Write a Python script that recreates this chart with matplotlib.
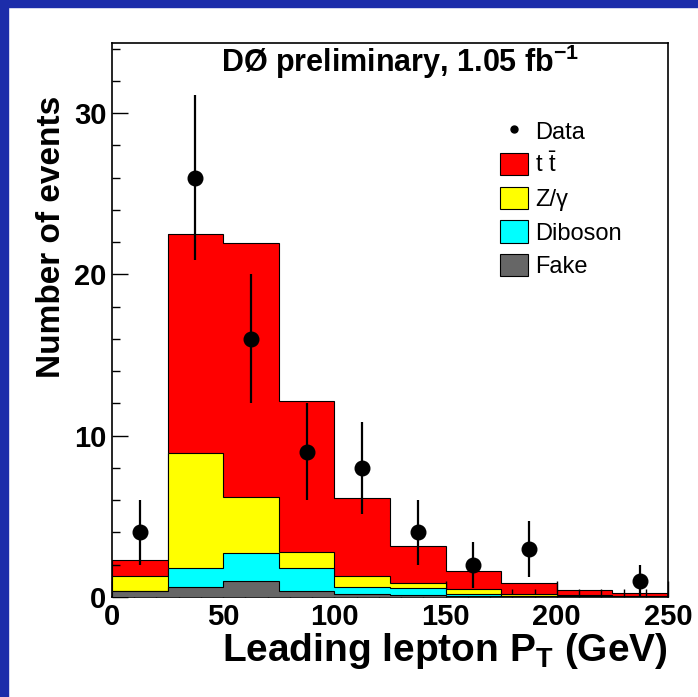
import numpy as np
import matplotlib
matplotlib.use("Agg")
import matplotlib.pyplot as plt
from matplotlib.patches import Rectangle, Patch
from matplotlib.lines import Line2D

plt.rcParams['font.family'] = ['Liberation Sans', 'DejaVu Sans']
plt.rcParams['mathtext.fontset'] = 'custom'
plt.rcParams['mathtext.rm'] = 'Liberation Sans'
plt.rcParams['mathtext.it'] = 'Liberation Sans:italic'
plt.rcParams['mathtext.bf'] = 'Liberation Sans:bold'

# binning of the leading lepton pT (GeV)
edges = np.arange(0, 251, 25)

# expected events per bin, by process
fake = [0.39, 0.60, 1.01, 0.39, 0.17, 0.12, 0.08, 0.04, 0.03, 0.02]
diboson = [0.01, 1.18, 1.70, 1.39, 0.47, 0.42, 0.09, 0.04, 0.02, 0.01]
zgamma = [0.90, 7.17, 3.47, 1.03, 0.68, 0.31, 0.33, 0.09, 0.05, 0.02]
ttbar = [0.99, 13.55, 15.79, 9.36, 4.80, 2.33, 1.11, 0.68, 0.33, 0.18]

# observed events
data = [4, 26, 16, 9, 8, 4, 2, 3, 0, 1]

names = ["t $\\mathrm{\\bar{t}}$", "Z/γ", "Diboson", "Fake"]
colors = ["#ff0000", "#ffff00", "#00ffff", "#666666"]

fig = plt.figure(figsize=(6.98, 6.97), dpi=100)
fig.patch.set_facecolor("white")
blue = "#1c2daa"
fig.add_artist(Rectangle((0, 1 - 7 / 697), 1, 7 / 697, transform=fig.transFigure,
                         color=blue, zorder=-1))
fig.add_artist(Rectangle((0, 0), 8 / 698, 1, transform=fig.transFigure,
                         color=blue, zorder=-1))

ax = fig.add_axes([112 / 698, 1 - 597 / 697, 556 / 698, 554 / 697])

# stack, drawn from the total down to the bottom component
stack = [ttbar, zgamma, diboson, fake]
for i in range(len(stack)):
    top = np.sum(np.array(stack[i:]), axis=0)
    ax.stairs(top, edges, fill=True, baseline=0, facecolor=colors[i],
              edgecolor="none", zorder=1 + i)
    ax.stairs(top, edges, fill=False, baseline=0, color="black",
              linewidth=0.8, zorder=1.5 + i)

centers = 0.5 * (edges[:-1] + edges[1:])
d = np.array(data, dtype=float)
m = d > 0
ax.errorbar(centers[m], d[m], yerr=np.sqrt(d[m]), fmt="o", color="black",
            markersize=10.5, elinewidth=1.6, capsize=0, zorder=10)

ax.set_xlim(0, 250)
ax.set_ylim(0, 34.35)
ax.set_xticks([0, 50, 100, 150, 200, 250])
ax.set_xticks(np.arange(0, 251, 10), minor=True)
ax.set_yticks([0, 10, 20, 30])
ax.set_yticks(np.arange(0, 35, 2), minor=True)
ax.tick_params(which="both", direction="in", top=False, right=False, width=1)
ax.tick_params(which="major", length=11.5, labelsize=21, pad=4)
ax.tick_params(which="minor", length=5.8)
for lab in ax.get_xticklabels() + ax.get_yticklabels():
    lab.set_fontweight("bold")
for s in ax.spines.values():
    s.set_linewidth(1.2)

ax.set_xlabel("Leading lepton P$_\\mathbf{T}$ (GeV)", fontsize=28,
              fontweight="bold", ha="right")
ax.xaxis.set_label_coords(1.0, -0.062)
ax.set_ylabel("Number of events", fontsize=24, fontweight="bold", va="center")
ax.yaxis.set_label_coords(-0.108, 0.65)

ax.text(0.518, 0.948, "DØ preliminary, 1.05 fb$^{\\mathbf{-1}}$", transform=ax.transAxes,
        fontsize=22, fontweight="bold", ha="center", va="baseline")

handles = [Line2D([], [], marker="o", color="black", linestyle="none", markersize=5)]
handles += [Patch(facecolor=c, edgecolor="black", linewidth=0.8) for c in colors]
ax.legend(handles, ["Data"] + names, loc="upper left",
          bbox_to_anchor=(0.698, 0.862), frameon=False, fontsize=17,
          borderpad=0, borderaxespad=0, handlelength=1.19, handleheight=1.06,
          handletextpad=0.3, labelspacing=0.4)

fig.savefig("out.png", dpi=100, facecolor=fig.get_facecolor())
